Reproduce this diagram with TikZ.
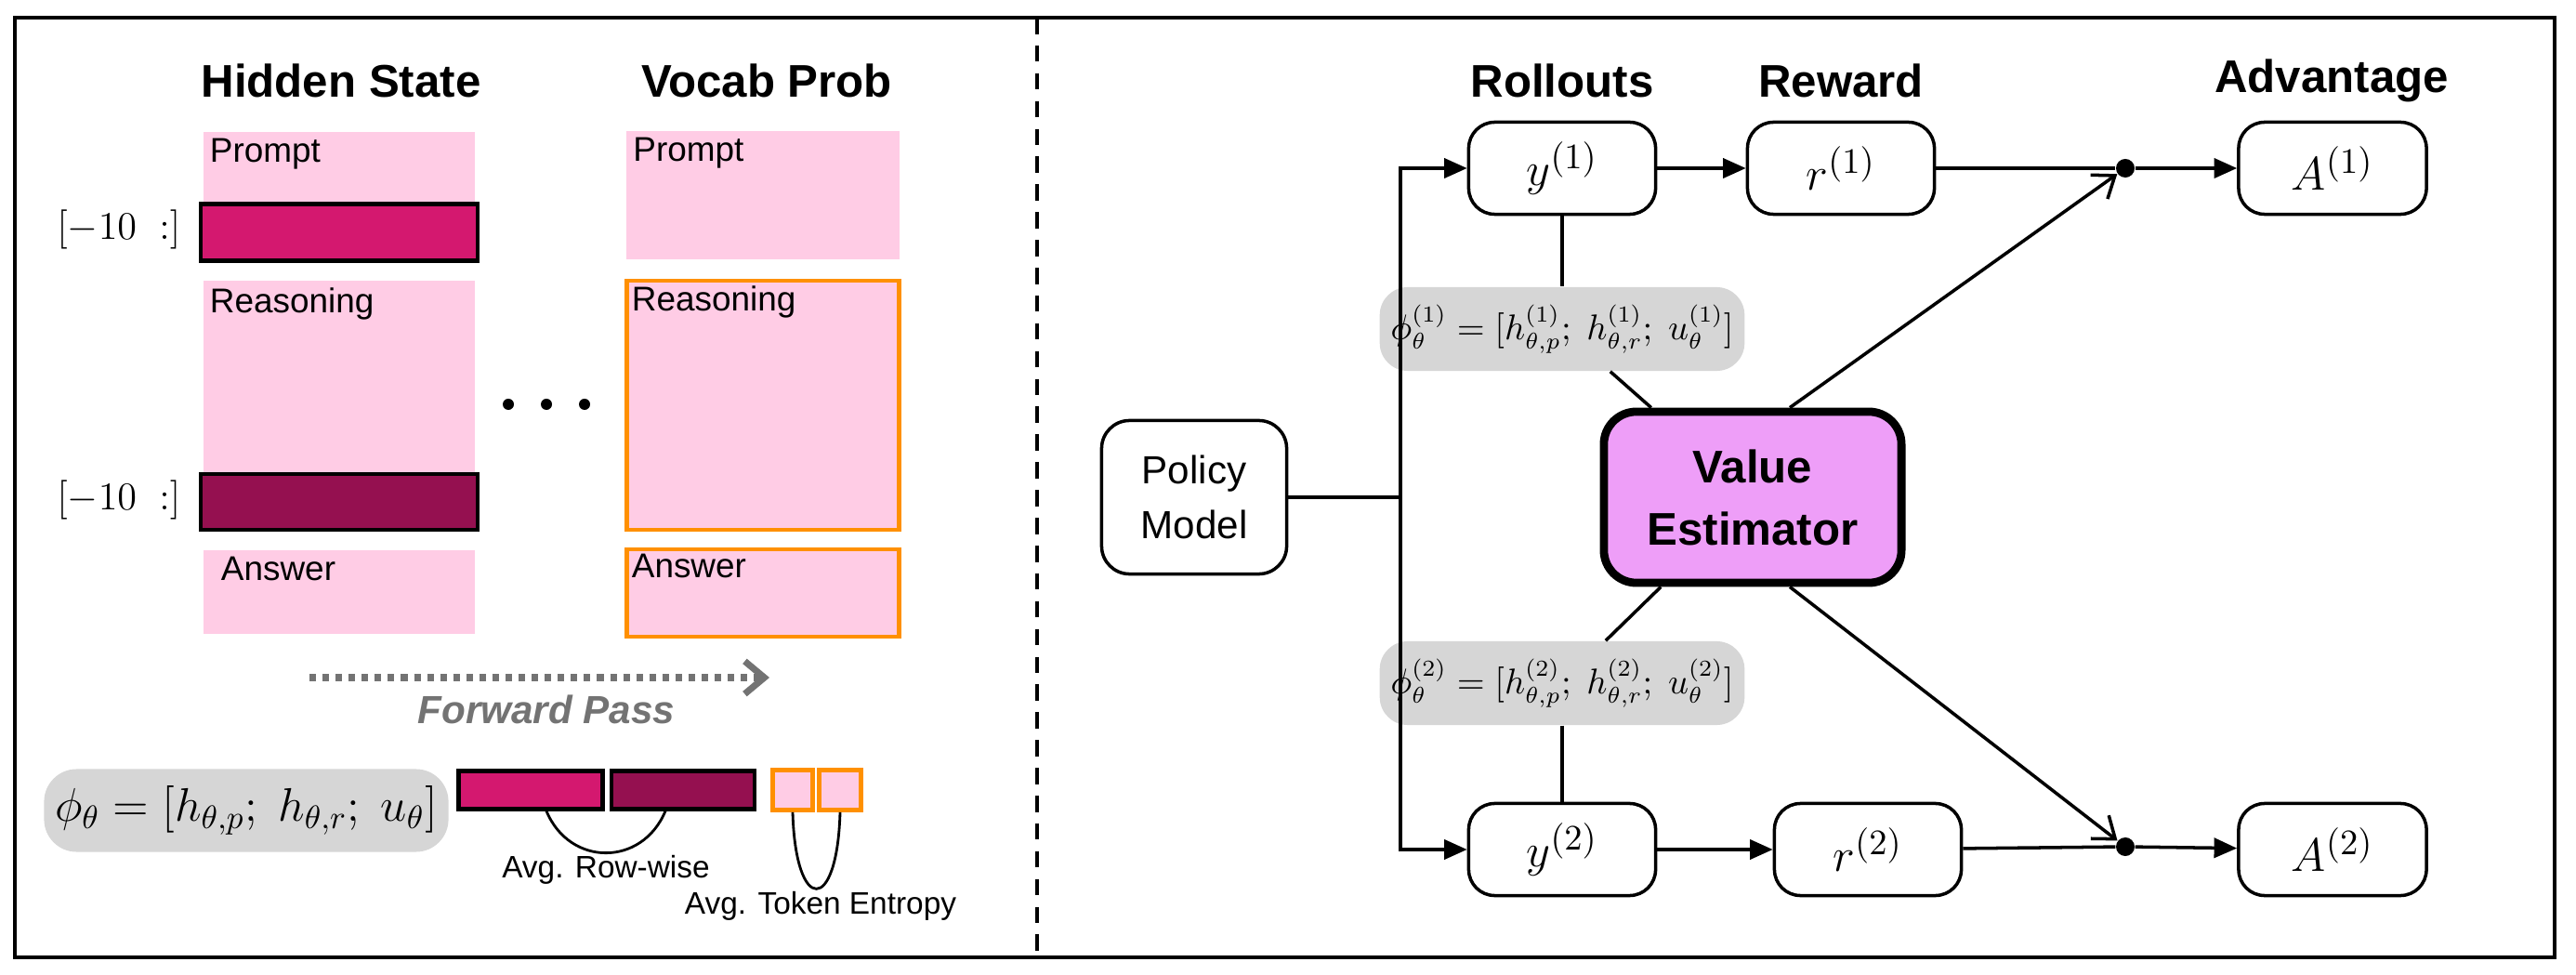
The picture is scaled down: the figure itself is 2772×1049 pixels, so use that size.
\documentclass[tikz,border=0pt]{standalone}
\usepackage{fontspec}
\setmainfont{Liberation Sans}
\usetikzlibrary{arrows.meta}
\definecolor{pinkfill}{HTML}{FFCCE5}
\definecolor{magbar}{HTML}{D4186F}
\definecolor{darkbar}{HTML}{951050}
\definecolor{orangeline}{HTML}{FF9000}
\definecolor{phigray}{HTML}{D6D6D6}
\definecolor{valuefill}{HTML}{EE9EF8}
\tikzset{
  title/.style={font=\bfseries\fontsize{14}{16}\selectfont},
  seg/.style={fill=pinkfill,inner sep=0pt},
  segtext/.style={anchor=north west,inner sep=2pt,font=\fontsize{10.5}{12}\selectfont},
  bar/.style={draw=black,line width=1.2pt,inner sep=0pt},
  obox/.style={seg,draw=orangeline,line width=1.3pt},
  rbox/.style={draw=black,line width=1pt,rounded corners=0.28cm,minimum width=2.01cm,minimum height=0.99cm,font=\fontsize{15}{18}\selectfont},
  phibox/.style={fill=phigray,rounded corners=0.3cm,minimum width=3.21cm,minimum height=0.9cm,font=\fontsize{10.5}{12}\selectfont},
  junc/.style={circle,fill=black,inner sep=0pt,minimum size=0.2cm},
  arr/.style={-{Triangle[length=7pt,width=6pt]},line width=1pt},
}
\begin{document}
\begin{tikzpicture}[x=0.01cm,y=-0.01cm]
\useasboundingbox (0,0) rectangle (2772,1049);
\draw[line width=1pt] (16,19) rectangle (2749,1030);
\draw[line width=1.3pt,dash pattern=on 5pt off 3.5pt] (1116,19) -- (1116,1030);

% left panel
\node[title] (hstitle) at (367,87) {Hidden State};
\node[title] (vptitle) at (825,87) {Vocab Prob};

\node[seg,minimum width=2.92cm,minimum height=0.75cm] (hprompt) at (365,180) {};
\node[bar,fill=magbar,minimum width=2.98cm,minimum height=0.61cm] (hbar1) at (365,250) {};
\node[seg,minimum width=2.92cm,minimum height=2.05cm] (hreason) at (365,405) {};
\node[bar,fill=darkbar,minimum width=2.98cm,minimum height=0.6cm] (hbar2) at (365,540) {};
\node[seg,minimum width=2.92cm,minimum height=0.9cm] (hanswer) at (365,637) {};

\node[seg,minimum width=2.93cm,minimum height=1.37cm] (vprompt) at (821,210) {};
\node[obox,minimum width=2.93cm,minimum height=2.68cm] (vreason) at (821,436) {};
\node[obox,minimum width=2.93cm,minimum height=0.94cm] (vanswer) at (821,638) {};

\node[segtext] at (hprompt.north west) {Prompt};
\node[segtext] at (hreason.north west) {Reasoning};
\node[segtext] at ([xshift=0.12cm]hanswer.north west) {Answer};
\node[segtext] at (vprompt.north west) {Prompt};
\node[segtext] at (vreason.north west) {Reasoning};
\node[segtext] at (vanswer.north west) {Answer};

\node[font=\fontsize{13}{15}\selectfont] (idx1) at (128,247) {$[-10\ :]$};
\node[font=\fontsize{13}{15}\selectfont] (idx2) at (128,538) {$[-10\ :]$};

\foreach \x in {547,588,629}
  \fill (\x,435) circle (0.06cm);

\coordinate (fwdstart) at (333,729);
\coordinate (fwdend) at (828,729);
\draw[gray!90!black,line width=2pt,dotted,-{Straight Barb[length=6pt,width=10pt]}] (fwdstart) -- (fwdend);
\node[font=\bfseries\itshape\fontsize{12}{14}\selectfont,text=gray!90!black] (fwdtext) at (588,763) {Forward Pass};

\node[fill=phigray,rounded corners=0.35cm,minimum width=3.75cm,minimum height=0.89cm,font=\fontsize{14}{16}\selectfont] (phi) at (265,872) {$\phi_\theta = [h_{\theta,p};\ h_{\theta,r};\ u_\theta]$};

\node[bar,fill=magbar,minimum width=1.55cm,minimum height=0.41cm] (mbar) at (571,850) {};
\node[bar,fill=darkbar,minimum width=1.54cm,minimum height=0.41cm] (dbar) at (735,850) {};
\node[obox,minimum width=0.43cm,minimum height=0.43cm] (tok1) at (853,850) {};
\node[obox,minimum width=0.45cm,minimum height=0.43cm] (tok2) at (904,850) {};

\draw[line width=0.8pt] ([xshift=0.17cm]mbar.south) .. controls +(0.25cm,-0.6cm) and +(-0.25cm,-0.6cm) .. ([xshift=-0.19cm]dbar.south);
\draw[line width=0.8pt] (tok1.south) .. controls +(0.03cm,-1.1cm) and +(-0.03cm,-1.1cm) .. (tok2.south);
\node[font=\fontsize{9.5}{11}\selectfont] (rowlbl) at (652,936) {Avg. Row-wise};
\node[font=\fontsize{9.5}{11}\selectfont] (entlbl) at (883,975) {Avg. Token Entropy};

% right panel
\node[title] (rtitle) at (1681,87) {Rollouts};
\node[title] (wtitle) at (1981,87) {Reward};
\node[title] (atitle) at (2509,87) {Advantage};

\node[draw=black,line width=1pt,rounded corners=0.3cm,minimum width=1.99cm,minimum height=1.65cm,align=center,font=\fontsize{12}{17}\selectfont] (policy) at (1285,535) {Policy\\Model};
\node[draw=black,line width=2.5pt,fill=valuefill,rounded corners=0.35cm,minimum width=3.2cm,minimum height=1.84cm,align=center,font=\bfseries\fontsize{14}{19}\selectfont] (value) at (1886,535) {Value\\Estimator};

\node[rbox] (y1) at (1681,181) {$y^{(1)}$};
\node[rbox] (r1) at (1981,181) {$r^{(1)}$};
\node[rbox,minimum width=2.02cm] (a1) at (2510,181) {$A^{(1)}$};
\node[rbox] (y2) at (1681,914) {$y^{(2)}$};
\node[rbox] (r2) at (2010,914) {$r^{(2)}$};
\node[rbox,minimum width=2.02cm] (a2) at (2510,914) {$A^{(2)}$};
\node[junc] (j1) at (2287,181) {};
\node[junc] (j2) at (2287,911) {};

\node[phibox] (phi1) at (1681,354) {$\phi^{(1)}_\theta = [h^{(1)}_{\theta,p};\ h^{(1)}_{\theta,r};\ u^{(1)}_\theta]$};
\node[phibox] (phi2) at (1681,735) {$\phi^{(2)}_\theta = [h^{(2)}_{\theta,p};\ h^{(2)}_{\theta,r};\ u^{(2)}_\theta]$};

\coordinate (trunk) at (1507,535);
\draw[line width=1pt] (policy.east) -- (trunk);
\draw[arr] (trunk) |- (y1.west);
\draw[arr] (trunk) |- (y2.west);
\draw[arr] (y1) -- (r1);
\draw[arr] (y2) -- (r2);
\draw[line width=1pt] (r1) -- (j1);
\draw[line width=1pt] (r2) -- (j2);
\draw[arr] (j1) -- (a1);
\draw[arr] (j2) -- (a2);

\draw[line width=1pt] (y1) -- (phi1);
\draw[line width=1pt] (phi1) -- (value);
\draw[line width=1pt] (value) -- (phi2);
\draw[line width=1pt] (phi2) -- (y2);
\draw[line width=1pt,-{Straight Barb[length=6pt,width=9pt]}] ([xshift=0.4cm]value.north) -- (j1);
\draw[line width=1pt,-{Straight Barb[length=6pt,width=9pt]}] ([xshift=0.4cm]value.south) -- (j2);
\end{tikzpicture}
\end{document}
